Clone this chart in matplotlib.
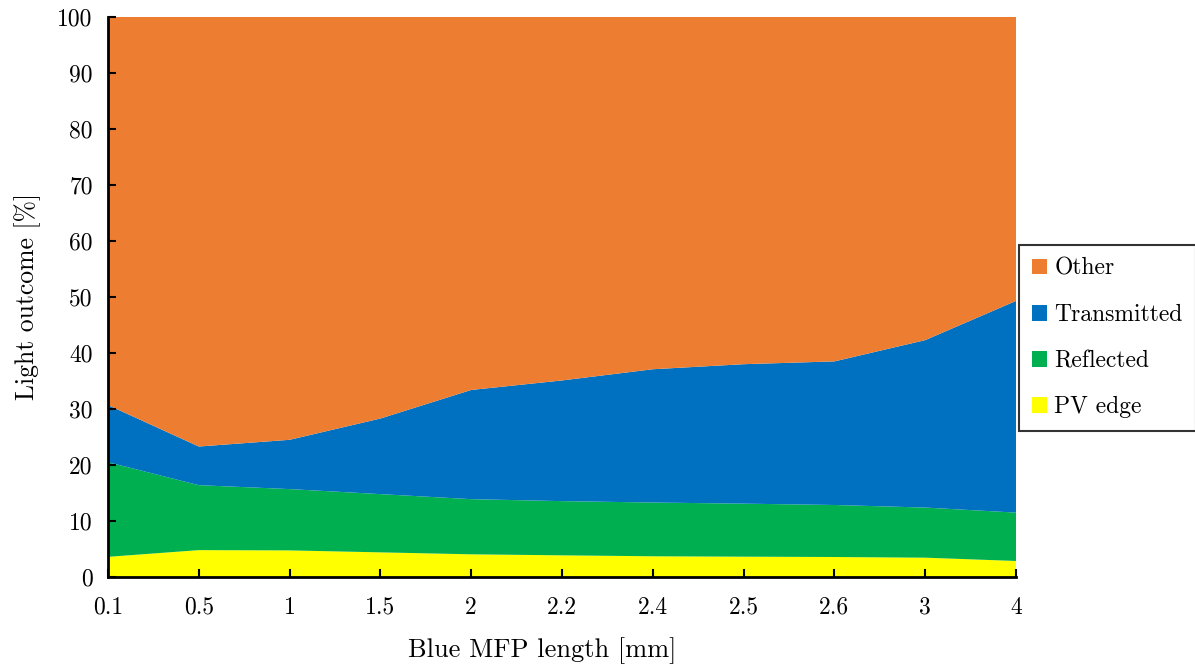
import numpy as np
import matplotlib
matplotlib.use("Agg")
import matplotlib.pyplot as plt

plt.rcParams['font.family'] = ['cmr10', 'DejaVu Serif']
plt.rcParams['mathtext.fontset'] = 'cm'
plt.rcParams['axes.formatter.use_mathtext'] = True

categories = ["0.1", "0.5", "1", "1.5", "2", "2.2", "2.4", "2.5", "2.6", "3", "4"]
pv_edge = [3.6, 4.8, 4.75, 4.4, 4.05, 3.87, 3.7, 3.63, 3.57, 3.45, 2.86]
reflected = [16.9, 11.6, 10.95, 10.4, 9.85, 9.68, 9.6, 9.47, 9.29, 8.95, 8.64]
transmitted = [10.2, 6.9, 8.8, 13.5, 19.5, 21.55, 23.8, 24.9, 25.64, 29.9, 37.8]
other = [69.3, 76.7, 75.5, 71.7, 66.6, 64.9, 62.9, 62.0, 61.5, 57.7, 50.7]

labels = ["PV edge", "Reflected", "Transmitted", "Other"]
colors = ["#FFFF00", "#00B050", "#0070C0", "#ED7D31"]

fig = plt.figure(figsize=(11.95, 6.65), dpi=100)
ax = fig.add_axes([108/1195, 1-577/665, (1016-108)/1195, (577-17)/665])

x = np.arange(len(categories))
polys = ax.stackplot(x, pv_edge, reflected, transmitted, other,
                     colors=colors, labels=labels, linewidth=0)

ax.set_xlim(0, len(categories) - 1)
ax.set_ylim(0, 100)
ax.set_xticks(x)
ax.set_xticklabels(categories)
ax.set_yticks(np.arange(0, 101, 10))
ax.set_yticklabels([str(v) for v in range(0, 101, 10)])
ax.tick_params(direction='in', length=6, width=1.5, labelsize=17)
ax.tick_params(axis='x', pad=14)
ax.tick_params(axis='y', pad=11)
for s in ['top', 'right']:
    ax.spines[s].set_visible(False)
for s in ['left', 'bottom']:
    ax.spines[s].set_linewidth(2)
ax.set_axisbelow(False)

ax.set_xlabel("Blue MFP length [mm]", fontsize=19)
ax.xaxis.set_label_coords(0.478, -0.108)
ax.set_ylabel("Light outcome [%]", fontsize=18.5, labelpad=12)

handles = polys[::-1]
leg = fig.legend(handles, labels[::-1], loc='center left',
                 bbox_to_anchor=(1019/1195, 1-338/665),
                 fontsize=17, frameon=True, fancybox=False,
                 edgecolor='black', handlelength=0.65, handleheight=0.65,
                 handletextpad=0.3, labelspacing=1.02, borderpad=0.55,
                 borderaxespad=0)
leg.get_frame().set_linewidth(1.5)

fig.savefig("out.png", dpi=100)
